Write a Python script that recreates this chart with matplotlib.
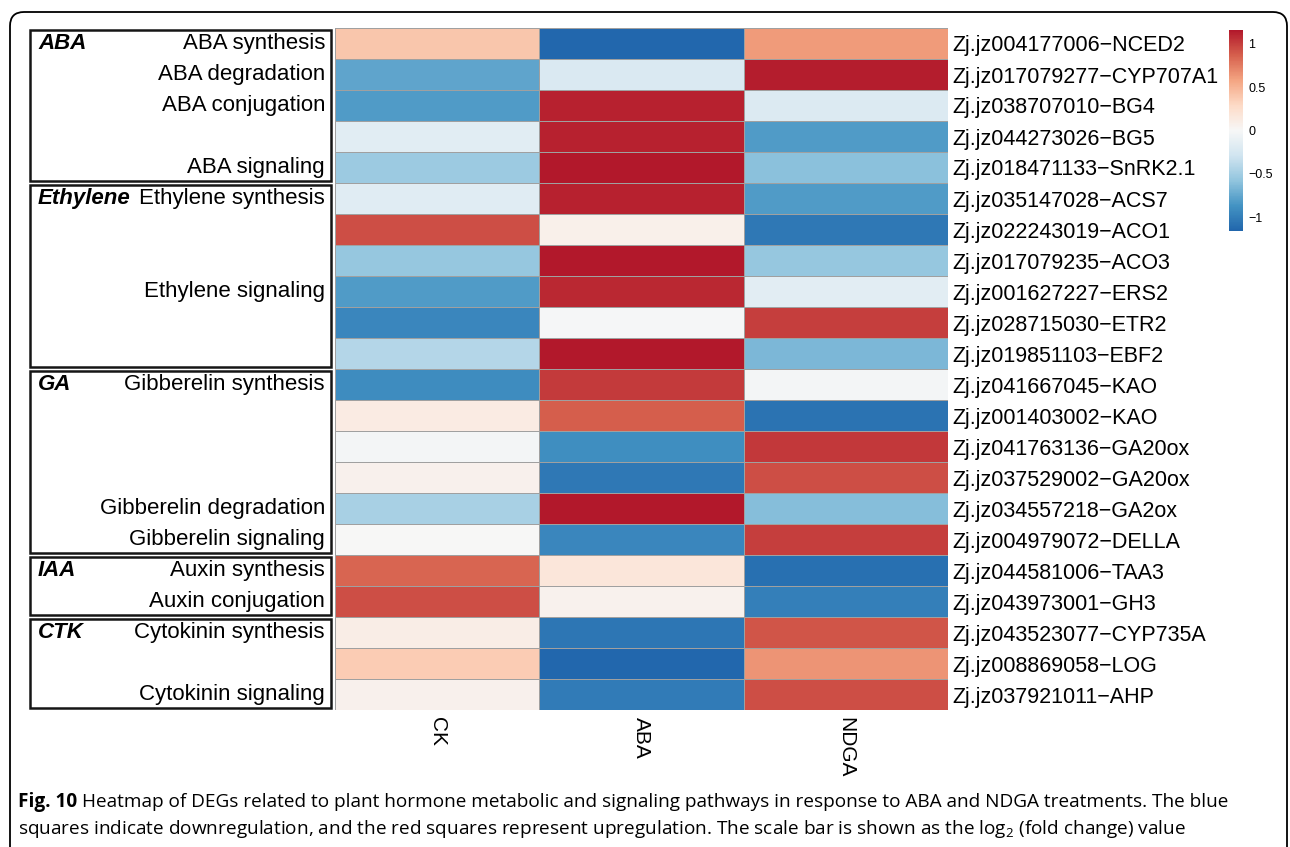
import numpy as np
import matplotlib
matplotlib.use("Agg")
import matplotlib.pyplot as plt
from matplotlib.colors import LinearSegmentedColormap
from matplotlib.patches import Rectangle, FancyBboxPatch
from matplotlib.transforms import IdentityTransform, blended_transform_factory

# gene rows (top to bottom)
genes = ["Zj.jz004177006\u2212NCED2", "Zj.jz017079277\u2212CYP707A1", "Zj.jz038707010\u2212BG4",
         "Zj.jz044273026\u2212BG5", "Zj.jz018471133\u2212SnRK2.1", "Zj.jz035147028\u2212ACS7",
         "Zj.jz022243019\u2212ACO1", "Zj.jz017079235\u2212ACO3", "Zj.jz001627227\u2212ERS2",
         "Zj.jz028715030\u2212ETR2", "Zj.jz019851103\u2212EBF2", "Zj.jz041667045\u2212KAO",
         "Zj.jz001403002\u2212KAO", "Zj.jz041763136\u2212GA20ox", "Zj.jz037529002\u2212GA20ox",
         "Zj.jz034557218\u2212GA2ox", "Zj.jz004979072\u2212DELLA", "Zj.jz044581006\u2212TAA3",
         "Zj.jz043973001\u2212GH3", "Zj.jz043523077\u2212CYP735A", "Zj.jz008869058\u2212LOG",
         "Zj.jz037921011\u2212AHP"]
samples = ["CK", "ABA", "NDGA"]

# log2 fold change (scaled)
ck = [0.40, -0.77, -0.82, -0.17, -0.53, -0.18, 0.94, -0.56, -0.82, -0.95, -0.42,
      -0.91, 0.12, -0.03, 0.07, -0.48, 0.00, 0.85, 0.94, 0.10, 0.37, 0.07]
aba = [-1.15, -0.22, 1.12, 1.12, 1.16, 1.12, 0.08, 1.16, 1.09, -0.01, 1.16,
       1.02, 0.87, -0.90, -1.04, 1.16, -0.95, 0.18, 0.06, -1.06, -1.15, -1.02]
ndga = [0.62, 1.14, -0.20, -0.82, -0.60, -0.82, -1.04, -0.56, -0.16, 1.00, -0.66,
        -0.03, -1.07, 1.03, 0.94, -0.62, 1.00, -1.09, -0.99, 0.91, 0.65, 0.94]

groups = ["ABA", "Ethylene", "GA", "IAA", "CTK"]
group_start = [0, 5, 11, 17, 19]
group_end = [5, 11, 17, 19, 22]

pathways = ["ABA synthesis", "ABA degradation", "ABA conjugation", "ABA signaling",
            "Ethylene synthesis", "Ethylene signaling", "Gibberelin synthesis",
            "Gibberelin degradation", "Gibberelin signaling", "Auxin synthesis",
            "Auxin conjugation", "Cytokinin synthesis", "Cytokinin signaling"]
pathway_row = [0, 1, 2, 4, 5, 8, 11, 15, 16, 17, 18, 19, 21]

plt.rcParams['font.family'] = ['Liberation Sans', 'DejaVu Sans']

W, H = 1290, 847
fig = plt.figure(figsize=(W / 100, H / 100), dpi=100)


def px_box(x0, y0, x1, y1):
    return [x0 / W, 1 - y1 / H, (x1 - x0) / W, (y1 - y0) / H]


ax = fig.add_axes(px_box(335, 28, 948, 710))
values = np.array([ck, aba, ndga]).T
cmap = LinearSegmentedColormap.from_list(
    "rdbu", ["#2166AC", "#4393C3", "#92C5DE", "#D1E5F0", "#F7F7F7",
             "#FDDBC7", "#F4A582", "#D6604D", "#B2182B"])
mesh = ax.pcolormesh(values, cmap=cmap, vmin=-1.16, vmax=1.16,
                     edgecolors="#a0a0a0", linewidth=0.7)
ax.set_xlim(0, 3)
ax.set_ylim(len(genes), 0)
ax.set_xticks(np.arange(len(samples)) + 0.5)
ax.set_xticklabels(samples, rotation=270, fontsize=15)
ax.set_yticks(np.arange(len(genes)) + 0.5)
ax.set_yticklabels(genes, fontsize=15.5)
ax.yaxis.tick_right()
ax.tick_params(length=0)
ax.tick_params(axis='y', pad=3)
ax.tick_params(axis='x', pad=5)
for s in ax.spines.values():
    s.set_visible(False)

# pathway group boxes on the left
trans = blended_transform_factory(ax.transAxes, ax.transData)
bx0 = (30 - 335) / 613
bx1 = (331 - 335) / 613
for g, a, b in zip(groups, group_start, group_end):
    ax.add_patch(Rectangle((bx0, a + 0.05), bx1 - bx0, b - a - 0.1, transform=trans,
                           fill=False, ec="#151515", lw=1.8, clip_on=False))
    ax.text((38 - 335) / 613, a + 0.5, g, transform=trans, ha="left", va="center",
            fontsize=16, fontweight="bold", fontstyle="italic")
for p, r in zip(pathways, pathway_row):
    ax.text((325 - 335) / 613, r + 0.5, p, transform=trans, ha="right", va="center",
            fontsize=16)

# colour scale
cax = fig.add_axes(px_box(1229, 30, 1243, 231))
cb = fig.colorbar(mesh, cax=cax, ticks=[-1, -0.5, 0, 0.5, 1])
cb.set_ticklabels(["\u22121", "\u22120.5", "0", "0.5", "1"])
cb.outline.set_visible(False)
cax.tick_params(length=0, labelsize=9, pad=4)

# rounded frame
frame = FancyBboxPatch((10, -15), 1277, 850, boxstyle="round,pad=0,rounding_size=14",
                       transform=IdentityTransform(), fill=False, ec="black", lw=1.3)
fig.add_artist(frame)

# caption
plt.rcParams['mathtext.fontset'] = 'custom'
plt.rcParams['mathtext.rm'] = 'Open Sans'
cap_font = dict(family=["Open Sans", "DejaVu Sans"], fontsize=13.7, va="center")
t = fig.text(18 / W, 1 - 802 / H, "Fig. 10", fontweight="bold", **cap_font)
renderer = fig.canvas.get_renderer()
bb = t.get_window_extent(renderer)
fig.text((bb.x1 + 5) / W, 1 - 802 / H,
         "Heatmap of DEGs related to plant hormone metabolic and signaling pathways "
         "in response to ABA and NDGA treatments. The blue", **cap_font)
fig.text(18 / W, 1 - 829 / H,
         "squares indicate downregulation, and the red squares represent upregulation. "
         "The scale bar is shown as the log$_2$ (fold change) value", **cap_font)

fig.savefig("out.png", dpi=100)
